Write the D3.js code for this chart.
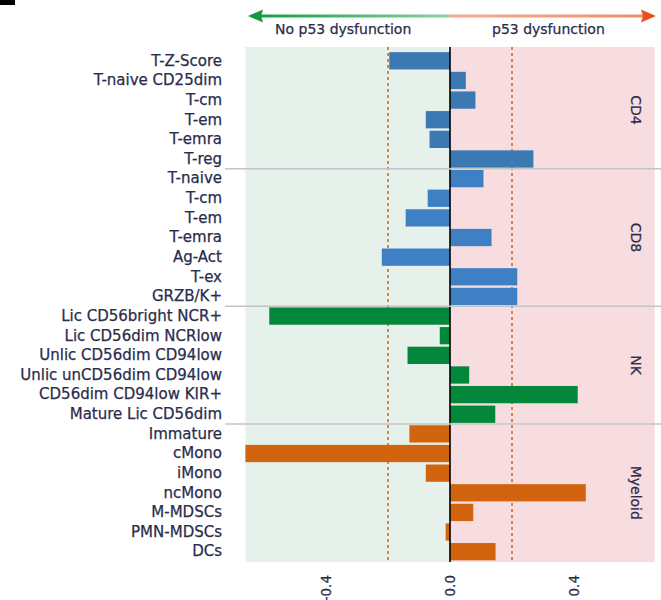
<!DOCTYPE html>
<html>
<head>
<meta charset="utf-8">
<script src="https://cdn.jsdelivr.net/npm/d3@7"></script>
<style>
  html, body { margin: 0; padding: 0; background: #ffffff; }
  svg { display: block; }
</style>
</head>
<body>
<svg id="chart" width="661" height="600"></svg>
<script>
// ---- Data ----
const groups = ["CD4", "CD8", "NK", "Myeloid"];
const cd4Labels = ["T-Z-Score", "T-naive CD25dim", "T-cm", "T-em", "T-emra", "T-reg"];
const cd4Values = [-0.196, 0.051, 0.082, -0.078, -0.066, 0.269];
const cd8Labels = ["T-naive", "T-cm", "T-em", "T-emra", "Ag-Act", "T-ex", "GRZB/K+"];
const cd8Values = [0.108, -0.072, -0.143, 0.134, -0.220, 0.217, 0.217];
const nkLabels = ["Lic CD56bright NCR+", "Lic CD56dim NCRlow", "Unlic CD56dim CD94low", "Unlic unCD56dim CD94low", "CD56dim CD94low KIR+", "Mature Lic CD56dim"];
const nkValues = [-0.583, -0.033, -0.137, 0.062, 0.412, 0.146];
const myeloidLabels = ["Immature", "cMono", "iMono", "ncMono", "M-MDSCs", "PMN-MDSCs", "DCs"];
const myeloidValues = [-0.131, -0.66, -0.078, 0.438, 0.075, -0.014, 0.147];
const tickValues = [-0.4, 0.0, 0.4];
const thresholds = [-0.2, 0.2];
const headerLabels = ["No p53 dysfunction", "p53 dysfunction"];

const groupColors = { CD4: "#3a79b2", CD8: "#3e80c3", NK: "#03873a", Myeloid: "#d2640f" };

const groupData = [
  { name: "CD4", labels: cd4Labels, values: cd4Values },
  { name: "CD8", labels: cd8Labels, values: cd8Values },
  { name: "NK", labels: nkLabels, values: nkValues },
  { name: "Myeloid", labels: myeloidLabels, values: myeloidValues }
];

const rows = [];
groupData.forEach(g => g.labels.forEach((l, i) => rows.push({ key: g.name + "|" + l, label: l, value: g.values[i], group: g.name })));

// ---- Layout ----
const svg = d3.select("#chart");
const panelTop = 47, panelBottom = 562;
const x = d3.scaleLinear().domain([-0.66, 0.66]).range([245.4, 654.6]);
const y = d3.scaleBand().domain(rows.map(r => r.key)).range([51, 561.5]).paddingInner(0.12).paddingOuter(0.06);

const labelFont = "'DejaVu Sans', sans-serif";
const textColor = "#2a2c4c";

function heavy(sel) {
  return sel.attr("stroke", textColor).attr("stroke-width", 0.25).attr("paint-order", "stroke");
}

// top-left mark
svg.append("rect").attr("x", 0).attr("y", 0).attr("width", 15).attr("height", 5).attr("fill", "#000");

// backgrounds
svg.append("rect").attr("x", x(-0.66)).attr("y", panelTop).attr("width", x(0) - x(-0.66)).attr("height", panelBottom - panelTop).attr("fill", "#e7f1eb");
svg.append("rect").attr("x", x(0)).attr("y", panelTop).attr("width", x(0.66) - x(0)).attr("height", panelBottom - panelTop).attr("fill", "#f8dde0");

// header arrow with gradients
const defs = svg.append("defs");
const gL = defs.append("linearGradient").attr("id", "gl").attr("gradientUnits", "userSpaceOnUse")
  .attr("x1", 248).attr("x2", x(0)).attr("y1", 0).attr("y2", 0);
gL.append("stop").attr("offset", "0").attr("stop-color", "#119a40");
gL.append("stop").attr("offset", "1").attr("stop-color", "#8fd0a6");
const gR = defs.append("linearGradient").attr("id", "gr").attr("gradientUnits", "userSpaceOnUse")
  .attr("x1", x(0)).attr("x2", 655).attr("y1", 0).attr("y2", 0);
gR.append("stop").attr("offset", "0").attr("stop-color", "#f7ab95");
gR.append("stop").attr("offset", "1").attr("stop-color", "#f08a68");

const arrowY = 16;
svg.append("line").attr("x1", 258).attr("x2", x(0)).attr("y1", arrowY).attr("y2", arrowY)
  .attr("stroke", "url(#gl)").attr("stroke-width", 3);
svg.append("line").attr("x1", x(0)).attr("x2", 644).attr("y1", arrowY).attr("y2", arrowY)
  .attr("stroke", "url(#gr)").attr("stroke-width", 3);
svg.append("path").attr("d", `M248,${arrowY} L263,${arrowY - 6.5} L261,${arrowY} L263,${arrowY + 6.5} Z`).attr("fill", "#109a3f");
svg.append("path").attr("d", `M656,${arrowY} L641,${arrowY - 6.5} L643,${arrowY} L641,${arrowY + 6.5} Z`).attr("fill", "#e8501c");

heavy(svg.append("text").attr("x", 275).attr("y", 34).text(headerLabels[0])
  .attr("font-family", labelFont).attr("font-size", 14).attr("fill", textColor));
heavy(svg.append("text").attr("x", 492).attr("y", 34).text(headerLabels[1])
  .attr("font-family", labelFont).attr("font-size", 14).attr("fill", textColor));

// threshold dashed lines
svg.selectAll("line.thr").data(thresholds).join("line").attr("class", "thr")
  .attr("x1", d => x(d)).attr("x2", d => x(d)).attr("y1", panelTop).attr("y2", panelBottom)
  .attr("stroke", "#d86a1e").attr("stroke-width", 1.6).attr("stroke-dasharray", "3,3");

// bars
svg.selectAll("rect.bar").data(rows).join("rect").attr("class", "bar")
  .attr("x", d => Math.min(x(0), x(d.value)))
  .attr("width", d => Math.abs(x(d.value) - x(0)))
  .attr("y", d => y(d.key))
  .attr("height", y.bandwidth())
  .attr("fill", d => groupColors[d.group]);

// zero line
svg.append("line").attr("x1", x(0)).attr("x2", x(0)).attr("y1", panelTop).attr("y2", panelBottom)
  .attr("stroke", "#000").attr("stroke-width", 1.6);

// group separators
let idx = 0;
const groupBounds = [];
groupData.forEach(g => {
  const first = rows[idx], last = rows[idx + g.labels.length - 1];
  groupBounds.push({ name: g.name, top: y(first.key), bottom: y(last.key) + y.bandwidth() });
  idx += g.labels.length;
});
svg.selectAll("line.sep").data(groupBounds.slice(0, -1)).join("line").attr("class", "sep")
  .attr("x1", 225).attr("x2", 661)
  .attr("y1", d => d.bottom + 1.2).attr("y2", d => d.bottom + 1.2)
  .attr("stroke", "#c4c4c4").attr("stroke-width", 1.5);

// row labels (y axis)
const yAxis = d3.axisLeft(y).tickSize(0).tickPadding(0).tickFormat(k => k.split("|")[1]);
const ya = svg.append("g").attr("transform", "translate(222,0)").call(yAxis);
ya.select(".domain").remove();
heavy(ya.selectAll("text").attr("font-family", labelFont).attr("font-size", 15).attr("fill", textColor));

// group labels
heavy(svg.selectAll("text.grp").data(groupBounds).join("text").attr("class", "grp")
  .attr("transform", d => `translate(631,${(d.top + d.bottom) / 2}) rotate(90)`)
  .attr("text-anchor", "middle")
  .attr("font-family", labelFont).attr("font-size", 14).attr("fill", textColor)
  .text(d => d.name));

// x axis
const xAxis = d3.axisBottom(x).tickValues(tickValues).tickSize(0).tickPadding(0).tickFormat(d3.format(".1f"));
const xa = svg.append("g").attr("transform", `translate(0,${panelBottom})`).call(xAxis);
xa.select(".domain").remove();
heavy(xa.selectAll("text")
  .attr("font-family", labelFont).attr("font-size", 13.5).attr("fill", textColor)
  .attr("text-anchor", "end")
  .attr("transform", "rotate(-90)")
  .attr("x", -13).attr("y", 0).attr("dy", "0.35em")
  .text(d => d3.format(".1f")(d).replace("−", "-")));
</script>
</body>
</html>
